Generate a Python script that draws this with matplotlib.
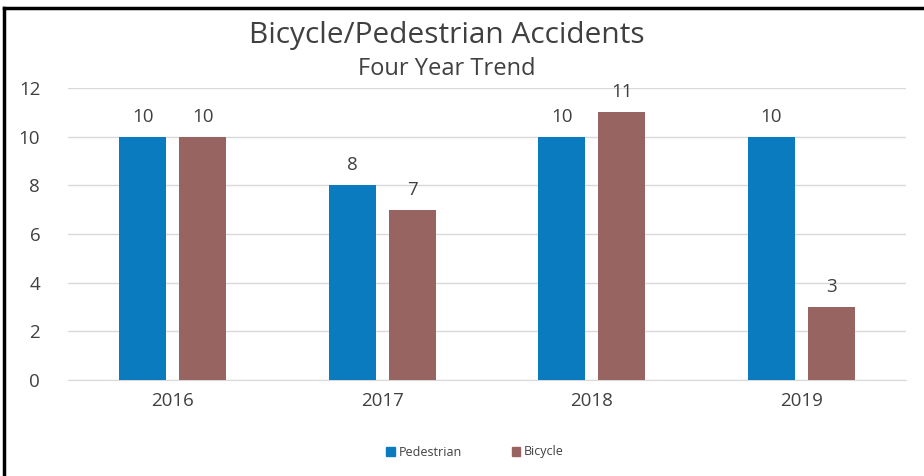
import matplotlib
matplotlib.use("Agg")
import matplotlib.pyplot as plt
import numpy as np
from matplotlib.patches import Patch
from matplotlib.lines import Line2D

years = ["2016", "2017", "2018", "2019"]
pedestrian = [10, 8, 10, 10]
bicycle = [10, 7, 11, 3]
yticks = [0, 2, 4, 6, 8, 10, 12]

ped_color = "#0A7BBF"
bic_color = "#976461"
text_color = "#404040"

plt.rcParams['font.family'] = ['Open Sans', 'DejaVu Sans']

fig = plt.figure(figsize=(9.24, 4.76), dpi=100)
ax = fig.add_axes([68/924, 1 - 380/476, 838/924, 292/476])

x = np.arange(len(years))
w = 0.224
off = 0.143
b1 = ax.bar(x - off, pedestrian, w, color=ped_color, label="Pedestrian", zorder=3)
b2 = ax.bar(x + off, bicycle, w, color=bic_color, label="Bicycle", zorder=3)

for bars, vals in [(b1, pedestrian), (b2, bicycle)]:
    for r, v in zip(bars, vals):
        ax.annotate(str(v), (r.get_x() + r.get_width()/2, v), xytext=(0, 8),
                    textcoords="offset points", ha="center", va="bottom",
                    fontsize=13.5, color=text_color)

ax.set_xlim(-0.5, 3.5)
ax.set_ylim(0, 12)
ax.set_yticks(yticks)
ax.set_yticklabels([str(t) for t in yticks], fontsize=13.5, color=text_color)
ax.set_xticks(x)
ax.set_xticklabels(years, fontsize=13.5, color=text_color)
ax.tick_params(axis="both", length=0)
ax.tick_params(axis="y", pad=20)
ax.tick_params(axis="x", pad=9)
for s in ["top", "right", "left"]:
    ax.spines[s].set_visible(False)
ax.spines["bottom"].set_color("#d9d9d9")
ax.yaxis.grid(True, color="#d9d9d9", linewidth=1, zorder=0)
ax.set_axisbelow(True)

fig.text(447/924, 1 - 35/476, "Bicycle/Pedestrian Accidents", ha="center", va="center",
         fontsize=21.5, color=text_color)
fig.text(447/924, 1 - 69/476, "Four Year Trend", ha="center", va="center",
         fontsize=17, color=text_color)

handles = [Patch(color=ped_color, label="Pedestrian"), Patch(color=bic_color, label="Bicycle")]
leg = fig.legend(handles=handles, loc="center", bbox_to_anchor=(475/924, 1 - 452/476),
                 ncol=2, frameon=False, fontsize=9, handlelength=0.7, handleheight=0.7,
                 columnspacing=4, handletextpad=0.3)
for t in leg.get_texts():
    t.set_color(text_color)

# border lines (left and top)
fig.add_artist(Line2D([3.5/924, 3.5/924], [0, 1 - 8/476], transform=fig.transFigure, color="black", linewidth=2.5))
fig.add_artist(Line2D([3.5/924, 1], [1 - 8/476, 1 - 8/476], transform=fig.transFigure, color="black", linewidth=2.5))

fig.savefig("out.png", dpi=100)
